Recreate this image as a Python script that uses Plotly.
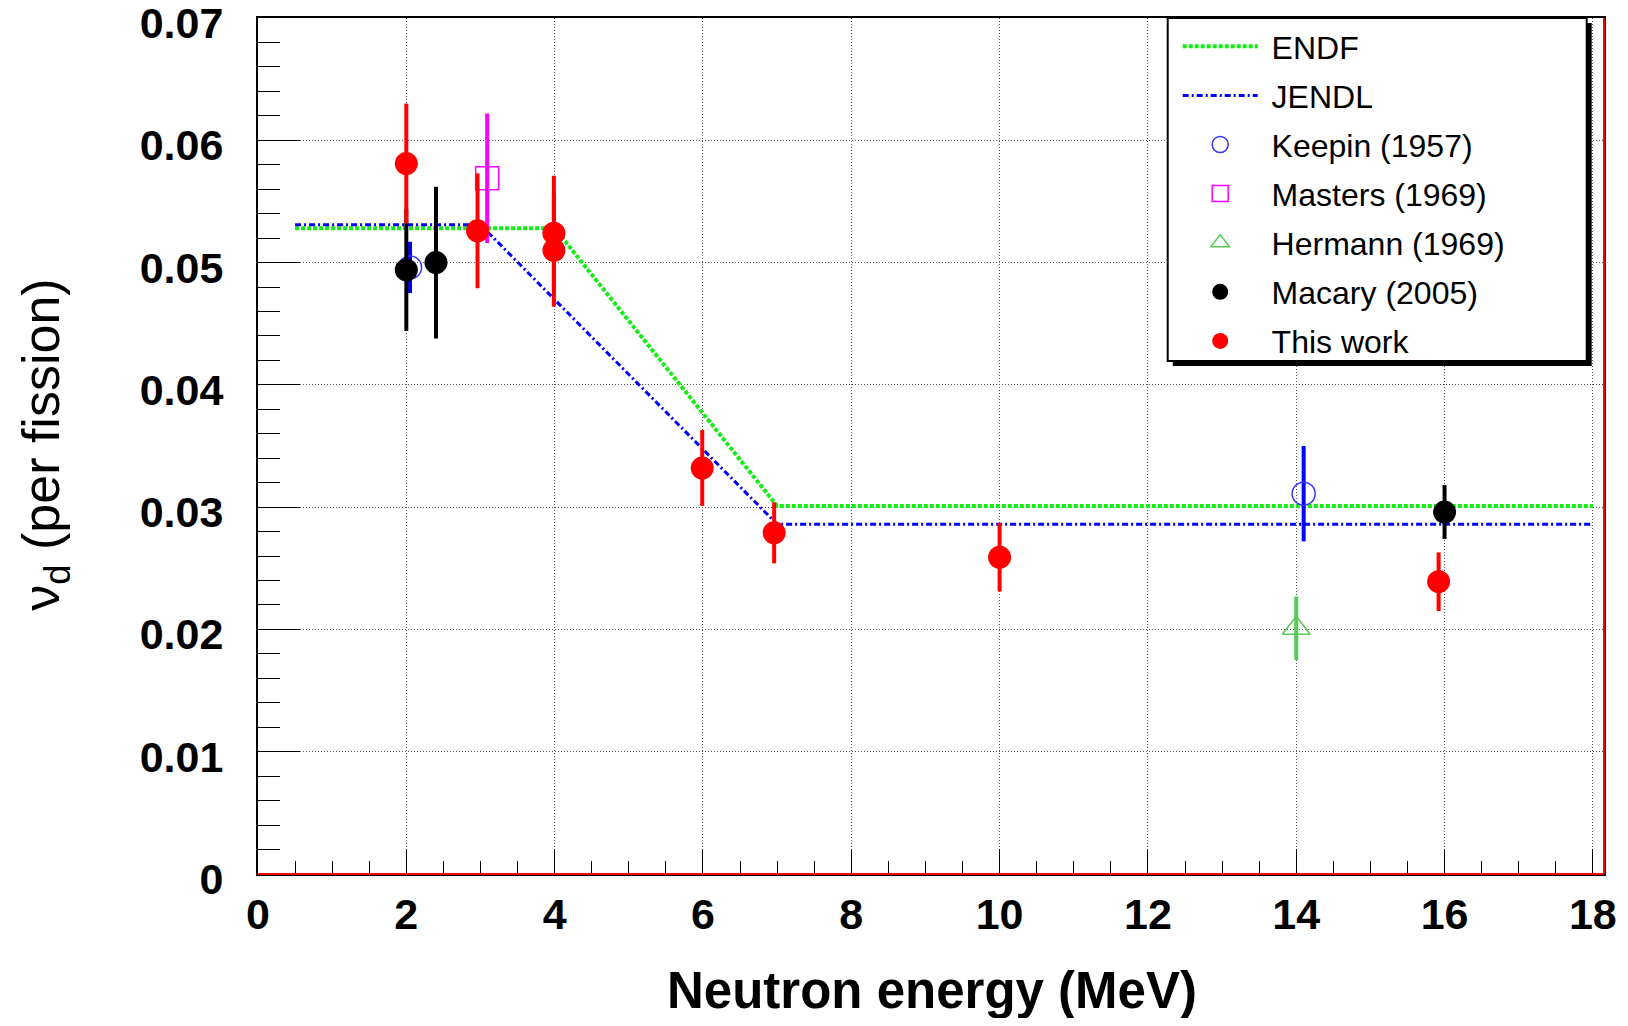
import plotly.graph_objects as go

# ---------------- data ----------------
endf_x = [0.5, 4.0, 7.0, 18.0]
endf_y = [0.0528, 0.0528, 0.0301, 0.0301]

jendl_x = [0.5, 3.0, 7.0, 18.0]
jendl_y = [0.0531, 0.0531, 0.0286, 0.0286]

keepin_x = [2.05, 14.1]
keepin_y = [0.0496, 0.0311]
keepin_err = [0.0021, 0.0039]

masters_x = [3.09]
masters_y = [0.0569]
masters_err = [0.0053]

hermann_x = [14.0]
hermann_y = [0.0201]
hermann_err = [0.0026]

macary_x = [2.0, 2.4, 16.0]
macary_y = [0.0494, 0.0500, 0.0296]
macary_err = [0.0050, 0.0062, 0.0022]

this_x = [2.0, 2.96, 3.99, 3.99, 5.99, 6.96, 10.0, 15.92]
this_y = [0.0581, 0.0526, 0.0524, 0.0510, 0.0332, 0.0279, 0.0259, 0.0239]
this_err = [0.0049, 0.0047, 0.0047, 0.0046, 0.0031, 0.0025, 0.0028, 0.0024]

x_tickvals = [0, 2, 4, 6, 8, 10, 12, 14, 16, 18]
x_ticktext = ["0", "2", "4", "6", "8", "10", "12", "14", "16", "18"]
y_tickvals = [0, 0.01, 0.02, 0.03, 0.04, 0.05, 0.06, 0.07]
y_ticktext = ["0", "0.01", "0.02", "0.03", "0.04", "0.05", "0.06", "0.07"]

# ---------------- layout geometry ----------------
# the page body has an 8px margin, so the figure is placed at (8, 8)
OFF = 8
W, H = 1612, 1010
# target plot area in page pixels
P_L, P_R, P_T, P_B = 258.3, 1604.3, 18.0, 874.0
L = P_L - OFF
T = P_T - OFF
R = W - (P_R - OFF)
B = H - (P_B - OFF)
PW = P_R - P_L
PH = P_B - P_T


def px2paper_x(px):  # page px -> paper
    return (px - P_L) / PW


def px2paper_y(py):
    return (P_B - py) / PH


FONT = "Liberation Sans, Arial, Helvetica, sans-serif"
NB = "\u00a0"

fig = go.Figure()

fig.add_trace(go.Scatter(x=endf_x, y=endf_y, mode="lines", name=NB + "ENDF",
                         legendgroup="a",
                         line=dict(color="#11ee11", width=4, dash="4px,2px")))
fig.add_trace(go.Scatter(x=jendl_x, y=jendl_y, mode="lines", name=NB + "JENDL",
                         legendgroup="b",
                         line=dict(color="#0000ff", width=3, dash="6px,3px,2px,3px")))

fig.add_trace(go.Scatter(x=keepin_x, y=keepin_y, mode="markers", name=NB + "Keepin (1957)",
                         legendgroup="c",
                         marker=dict(symbol="circle-open", size=23, color="#3333ff",
                                     line=dict(width=1.5, color="#3333ff")),
                         error_y=dict(type="data", array=keepin_err, color="#0000ff",
                                      thickness=4, width=0)))
fig.add_trace(go.Scatter(x=masters_x, y=masters_y, mode="markers", name=NB + "Masters (1969)",
                         legendgroup="d",
                         marker=dict(symbol="square-open", size=23, color="#ff00ff",
                                     line=dict(width=1.5, color="#ff00ff")),
                         error_y=dict(type="data", array=masters_err, color="#ff00ff",
                                      thickness=4, width=0)))
fig.add_trace(go.Scatter(x=hermann_x, y=hermann_y, mode="markers", name=NB + "Hermann (1969)",
                         legendgroup="e",
                         marker=dict(symbol="triangle-up-open", size=24, color="#55cc55",
                                     line=dict(width=1.5, color="#55cc55")),
                         error_y=dict(type="data", array=hermann_err, color="#55cc55",
                                      thickness=4, width=0)))
fig.add_trace(go.Scatter(x=macary_x, y=macary_y, mode="markers", name=NB + "Macary (2005)",
                         legendgroup="f",
                         marker=dict(symbol="circle", size=23, color="#000000"),
                         error_y=dict(type="data", array=macary_err, color="#000000",
                                      thickness=4, width=0)))
fig.add_trace(go.Scatter(x=this_x, y=this_y, mode="markers", name=NB + "This work",
                         legendgroup="g",
                         marker=dict(symbol="circle", size=23, color="#ff0000"),
                         error_y=dict(type="data", array=this_err, color="#ff0000",
                                      thickness=4, width=0)))

tickfont = dict(family=FONT, size=43, color="black", weight="bold")

fig.update_layout(
    width=W, height=H,
    margin=dict(l=L, r=R, t=T, b=B, pad=0, autoexpand=False),
    paper_bgcolor="white", plot_bgcolor="white",
    showlegend=True,
    legend=dict(
        x=px2paper_x(1178), y=px2paper_y(19), xanchor="left", yanchor="top",
        bgcolor="rgba(0,0,0,0)", borderwidth=0,
        font=dict(family=FONT, size=32, color="black"),
        itemwidth=75, tracegroupgap=4.5,
    ),
    xaxis=dict(
        range=[0, 18.15], tickvals=x_tickvals, ticktext=x_ticktext,
        tickfont=tickfont, ticks="inside", ticklen=25, tickwidth=1, tickcolor="black",
        showline=True, linecolor="black", linewidth=2, mirror=True,
        showgrid=True, gridcolor="#555555", gridwidth=1, griddash="1px,2px",
        zeroline=False, ticklabelstandoff=1, ticklabeloverflow="allow",
        minor=dict(dtick=0.5, ticks="inside", ticklen=13, tickcolor="black", tickwidth=1,
                   showgrid=False),
    ),
    yaxis=dict(
        range=[0, 0.07], tickvals=y_tickvals, ticktext=y_ticktext,
        tickfont=tickfont, ticks="inside", ticklen=42, tickwidth=1, tickcolor="black",
        showline=True, linecolor="black", linewidth=2, mirror=True,
        showgrid=True, gridcolor="#555555", gridwidth=1, griddash="1px,2px",
        zeroline=False, ticklabelstandoff=24, ticklabelshift=5,
        ticklabeloverflow="allow",
        minor=dict(dtick=0.002, ticks="inside", ticklen=22, tickcolor="black", tickwidth=1,
                   showgrid=False),
    ),
)

# red frame lines (bottom and right)
fig.add_shape(type="line", xref="paper", yref="paper", x0=0, x1=1, y0=0, y1=0,
              line=dict(color="#ff0000", width=2), layer="above")
fig.add_shape(type="line", xref="paper", yref="paper", x0=1, x1=1, y0=0, y1=1,
              line=dict(color="#ff0000", width=2), layer="above")

# legend box with shadow
fig.add_shape(type="rect", xref="paper", yref="paper",
              x0=px2paper_x(1173), x1=px2paper_x(1592),
              y0=px2paper_y(366), y1=px2paper_y(23),
              fillcolor="black", line=dict(width=0), layer="above")
fig.add_shape(type="rect", xref="paper", yref="paper",
              x0=px2paper_x(1168), x1=px2paper_x(1587),
              y0=px2paper_y(361), y1=px2paper_y(18),
              fillcolor="white", line=dict(color="black", width=2), layer="above")

# axis titles
fig.add_annotation(text="<b>Neutron energy (MeV)</b>", xref="paper", yref="paper",
                   x=px2paper_x(932), y=px2paper_y(990), xanchor="center", yanchor="middle",
                   showarrow=False, font=dict(family=FONT, size=51, color="black"))
fig.add_annotation(text="ν<sub>d</sub> (per fission)", xref="paper", yref="paper",
                   x=px2paper_x(45), y=px2paper_y(445), xanchor="center", yanchor="middle",
                   textangle=-90, showarrow=False,
                   font=dict(family=FONT, size=52, color="black"))

fig.write_html("out.html")
